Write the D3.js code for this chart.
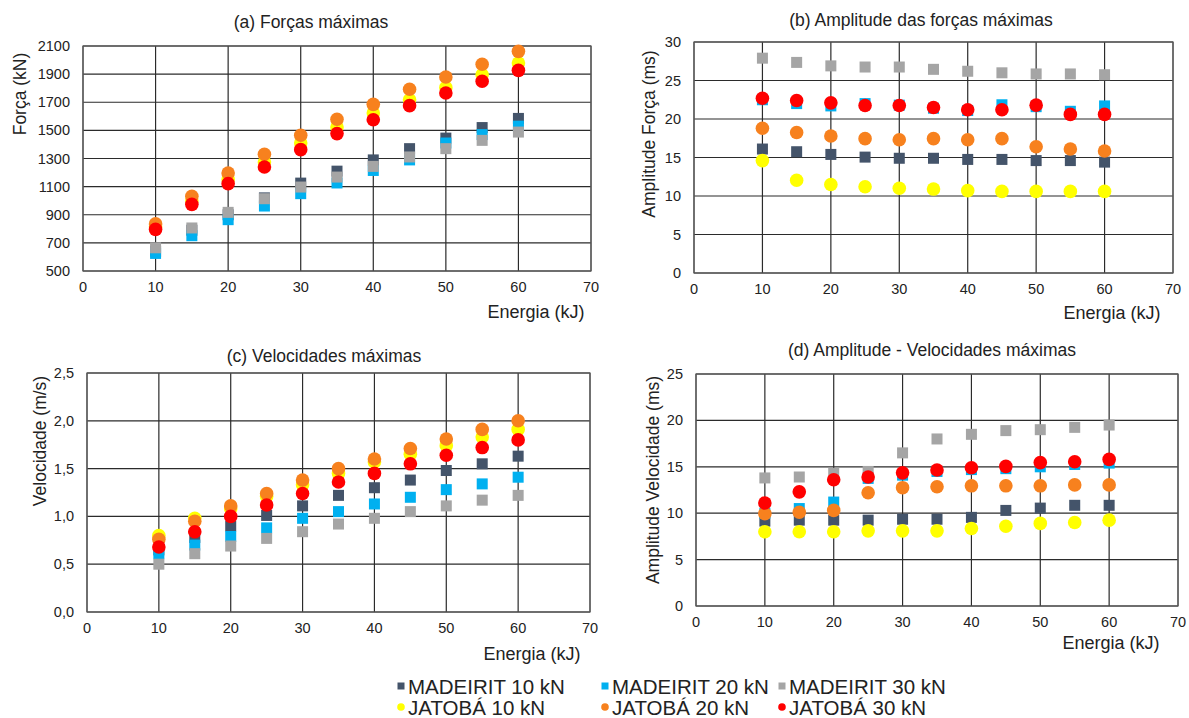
<!DOCTYPE html>
<html>
<head>
<meta charset="utf-8">
<script src="https://cdn.jsdelivr.net/npm/d3@7"></script>
<style>
  body { margin: 0; background: #fff; }
  svg text { font-family: "Liberation Sans", Arial, sans-serif; }
</style>
</head>
<body>
<svg id="chart" width="1189" height="718"></svg>
<script>
// energy levels (kJ)
const energia = [10, 15, 20, 25, 30, 35, 40, 45, 50, 55, 60]

const seriesNames = ['MADEIRIT 10 kN', 'MADEIRIT 20 kN', 'MADEIRIT 30 kN', 'JATOBÁ 10 kN', 'JATOBÁ 20 kN', 'JATOBÁ 30 kN']
const seriesColours = ['#44546A', '#00B0F0', '#A5A5A5', '#FFFF00', '#F7811E', '#FF0000']
const seriesShapes = ['square', 'square', 'square', 'circle', 'circle', 'circle']

// (a) Forças máximas (kN)
const forcaM10 = [640, 790, 900, 1020, 1125, 1210, 1290, 1370, 1445, 1520, 1585]
const forcaM20 = [625, 751, 865, 962, 1050, 1126, 1215, 1290, 1410, 1470, 1530]
const forcaM30 = [665, 806, 917, 1014, 1097, 1168, 1244, 1311, 1370, 1429, 1488]
const forcaJ10 = [815, 1000, 1150, 1275, 1410, 1524, 1624, 1718, 1804, 1896, 1979]
const forcaJ20 = [835, 1031, 1197, 1330, 1465, 1579, 1685, 1792, 1880, 1970, 2062]
const forcaJ30 = [796, 974, 1121, 1240, 1363, 1477, 1576, 1676, 1766, 1849, 1927]

// (b) Amplitude das forças máximas (ms)
const ampForcaM10 = [16.1, 15.75, 15.4, 15.05, 14.9, 14.9, 14.75, 14.75, 14.6, 14.6, 14.4]
const ampForcaM20 = [22.5, 22.0, 21.7, 22.0, 21.8, 21.4, 21.1, 21.85, 21.6, 21.0, 21.7]
const ampForcaM30 = [27.9, 27.35, 26.9, 26.75, 26.75, 26.45, 26.2, 26.0, 25.85, 25.85, 25.75]
const ampForcaJ10 = [14.6, 12.05, 11.5, 11.2, 11.0, 10.9, 10.7, 10.6, 10.6, 10.6, 10.6]
const ampForcaJ20 = [18.8, 18.25, 17.8, 17.45, 17.3, 17.45, 17.3, 17.45, 16.4, 16.1, 15.85]
const ampForcaJ30 = [22.7, 22.4, 22.1, 21.75, 21.75, 21.5, 21.2, 21.2, 21.8, 20.6, 20.6]

// (c) Velocidades máximas (m/s)
const velM10 = [0.65, 0.78, 0.90, 1.01, 1.11, 1.22, 1.30, 1.38, 1.48, 1.55, 1.63]
const velM20 = [0.61, 0.70, 0.79, 0.88, 0.98, 1.05, 1.13, 1.20, 1.28, 1.34, 1.41]
const velM30 = [0.50, 0.61, 0.69, 0.77, 0.84, 0.92, 0.98, 1.05, 1.11, 1.17, 1.22]
const velJ10 = [0.80, 0.98, 1.08, 1.21, 1.33, 1.45, 1.57, 1.65, 1.74, 1.83, 1.91]
const velJ20 = [0.76, 0.95, 1.11, 1.24, 1.38, 1.50, 1.60, 1.71, 1.81, 1.91, 2.00]
const velJ30 = [0.68, 0.84, 1.00, 1.12, 1.24, 1.36, 1.45, 1.55, 1.64, 1.72, 1.80]

// (d) Amplitude - Velocidades máximas (ms)
const ampVelM10 = [9.15, 9.25, 9.25, 9.25, 9.35, 9.35, 9.55, 10.3, 10.55, 10.85, 10.85]
const ampVelM20 = [10.0, 10.5, 11.2, 13.75, 14.1, 14.5, 14.7, 14.8, 15.0, 15.25, 15.4]
const ampVelM30 = [13.8, 13.9, 14.3, 14.5, 16.5, 18.0, 18.5, 18.9, 19.0, 19.25, 19.5]
const ampVelJ10 = [8.0, 8.0, 8.0, 8.1, 8.1, 8.1, 8.35, 8.6, 8.9, 9.0, 9.25]
const ampVelJ20 = [9.95, 10.1, 10.3, 12.2, 12.75, 12.85, 12.95, 12.95, 12.95, 13.05, 13.05]
const ampVelJ30 = [11.1, 12.3, 13.6, 13.9, 14.35, 14.65, 14.9, 15.05, 15.45, 15.55, 15.8]

const xTicks = [0, 10, 20, 30, 40, 50, 60, 70]
const forcaTicks = [500, 700, 900, 1100, 1300, 1500, 1700, 1900, 2100]
const ampForcaTicks = [0, 5, 10, 15, 20, 25, 30]
const velTicks = [0, 0.5, 1.0, 1.5, 2.0, 2.5]
const ampVelTicks = [0, 5, 10, 15, 20, 25]

const svg = d3.select('#chart')

const panels = [
    { title: '(a) Forças máximas', ylabel: 'Força (kN)', box: [83, 46, 591, 271], yTicks: forcaTicks,
      fmt: d => d, series: [forcaM10, forcaM20, forcaM30, forcaJ10, forcaJ20, forcaJ30],
      titleXY: [311, 28], ylabelXY: [20, 94], xlabelXY: [536, 318] },
    { title: '(b) Amplitude das forças máximas', ylabel: 'Amplitude Força (ms)', box: [694, 42, 1173, 273], yTicks: ampForcaTicks,
      fmt: d => d, series: [ampForcaM10, ampForcaM20, ampForcaM30, ampForcaJ10, ampForcaJ20, ampForcaJ30],
      titleXY: [921, 26], ylabelXY: [649, 134], xlabelXY: [1112, 319] },
    { title: '(c) Velocidades máximas', ylabel: 'Velocidade (m/s)', box: [87, 373, 590, 612], yTicks: velTicks,
      fmt: d => d3.format('.1f')(d).replace('.', ','), series: [velM10, velM20, velM30, velJ10, velJ20, velJ30],
      titleXY: [324, 362], ylabelXY: [40, 441], xlabelXY: [532, 660] },
    { title: '(d) Amplitude - Velocidades máximas', ylabel: 'Amplitude Velocidade (ms)', box: [696, 374, 1178, 606], yTicks: ampVelTicks,
      fmt: d => d, series: [ampVelM10, ampVelM20, ampVelM30, ampVelJ10, ampVelJ20, ampVelJ30],
      titleXY: [932, 356], ylabelXY: [653, 480], xlabelXY: [1111, 649] }
]

for (const p of panels) {

    const [x0, y0, x1, y1] = p.box

    const x = d3.scaleLinear().domain([0, 70]).range([x0, x1])

    const y = d3.scaleLinear().domain(d3.extent(p.yTicks)).range([y1, y0])

    const g = svg.append('g')

    // grid
    g.append('g').selectAll('line.h')
        .data(p.yTicks)
        .enter().append('line')
        .attr('x1', x0).attr('x2', x1)
        .attr('y1', d => y(d)).attr('y2', d => y(d))
        .attr('stroke', '#2b2b2b').attr('stroke-width', 1.2)

    g.append('g').selectAll('line.v')
        .data(xTicks)
        .enter().append('line')
        .attr('x1', d => x(d)).attr('x2', d => x(d))
        .attr('y1', y0).attr('y2', y1)
        .attr('stroke', d => (d === 0 || d === 70) ? '#555' : '#2b2b2b').attr('stroke-width', 1.2)

    g.append('rect')
        .attr('x', x0).attr('y', y0)
        .attr('width', x1 - x0).attr('height', y1 - y0)
        .attr('fill', 'none').attr('stroke', '#555').attr('stroke-width', 1.2)

    // tick labels
    g.append('g').selectAll('text')
        .data(p.yTicks)
        .enter().append('text')
        .attr('x', x0 - 13).attr('y', d => y(d) + 5)
        .attr('text-anchor', 'end')
        .attr('font-size', '14.5px').attr('fill', '#222')
        .text(p.fmt)

    g.append('g').selectAll('text')
        .data(xTicks)
        .enter().append('text')
        .attr('x', d => x(d)).attr('y', y1 + 21)
        .attr('text-anchor', 'middle')
        .attr('font-size', '14.5px').attr('fill', '#222')
        .text(d => d)

    // titles
    g.append('text')
        .attr('x', p.titleXY[0]).attr('y', p.titleXY[1])
        .attr('text-anchor', 'middle')
        .attr('font-size', '17.5px').attr('fill', '#222')
        .text(p.title)

    g.append('text')
        .attr('transform', `translate(${p.ylabelXY[0]},${p.ylabelXY[1]}) rotate(-90)`)
        .attr('text-anchor', 'middle')
        .attr('dy', '0.35em')
        .attr('font-size', '17.5px').attr('fill', '#222')
        .text(p.ylabel)

    g.append('text')
        .attr('x', p.xlabelXY[0]).attr('y', p.xlabelXY[1])
        .attr('text-anchor', 'middle')
        .attr('font-size', '18px').attr('fill', '#222')
        .text('Energia (kJ)')

    // markers
    p.series.forEach(function (values, i) {

        const pts = energia.map((e, k) => ({ e: e, v: values[k] }))

        const s = g.append('g')

        if (seriesShapes[i] === 'square') {

            s.selectAll('rect')
                .data(pts)
                .enter().append('rect')
                .attr('x', d => x(d.e) - 5.5)
                .attr('y', d => y(d.v) - 5.5)
                .attr('width', 11).attr('height', 11)
                .attr('fill', seriesColours[i])

        } else {

            s.selectAll('circle')
                .data(pts)
                .enter().append('circle')
                .attr('cx', d => x(d.e))
                .attr('cy', d => y(d.v))
                .attr('r', 6.8)
                .attr('fill', seriesColours[i])

        }
    })
}

// legend
const legendX = [401, 605, 782]
const legendY = [686, 707]

seriesNames.forEach(function (name, i) {

    const lx = legendX[i % 3]
    const ly = legendY[Math.floor(i / 3)]

    if (seriesShapes[i] === 'square') {
        svg.append('rect')
            .attr('x', lx - 3.5).attr('y', ly - 3.5)
            .attr('width', 7).attr('height', 7)
            .attr('fill', seriesColours[i])
    } else {
        svg.append('circle')
            .attr('cx', lx).attr('cy', ly)
            .attr('r', 3.8)
            .attr('fill', seriesColours[i])
    }

    svg.append('text')
        .attr('x', lx + 7).attr('y', ly + 7.5)
        .attr('font-size', '20.5px').attr('fill', '#222')
        .text(name)
})
</script>
</body>
</html>
